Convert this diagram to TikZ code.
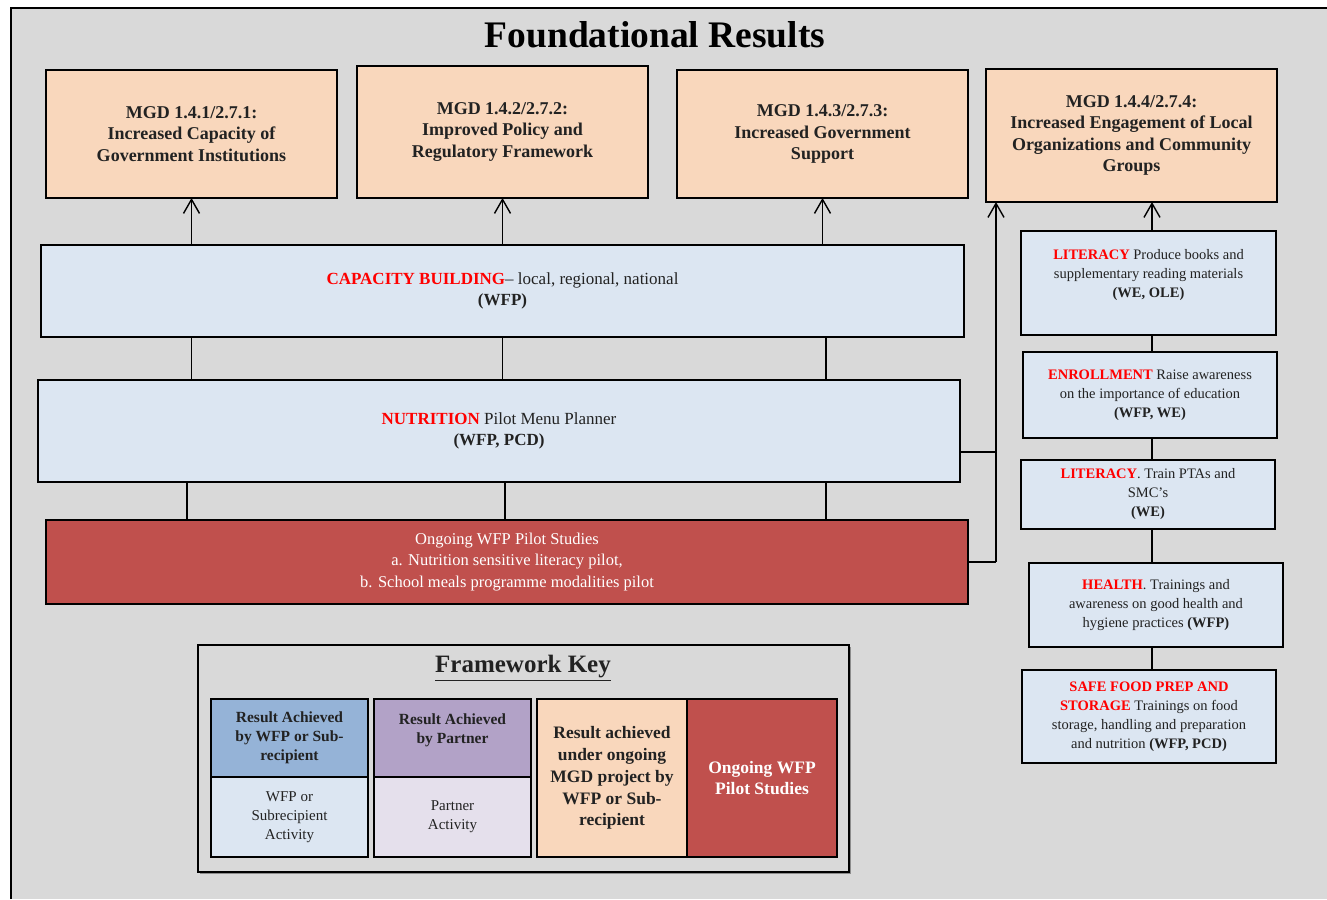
\documentclass[tikz,border=0pt]{standalone}
\usepackage{fontspec}
\setmainfont{Liberation Serif}
\usetikzlibrary{arrows.meta}
\definecolor{bg}{HTML}{D9D9D9}
\definecolor{lblue}{HTML}{DCE6F2}
\definecolor{pilotred}{HTML}{C0504D}
\definecolor{peach}{HTML}{F9D7BC}
\definecolor{kblue}{HTML}{95B3D7}
\definecolor{kpurple}{HTML}{B2A2C7}
\definecolor{lpurple}{HTML}{E5E0EC}
\definecolor{hl}{HTML}{FF0000}
\definecolor{txt}{HTML}{222222}
\newcommand{\hlw}[1]{\textcolor{hl}{\bfseries #1}}
\begin{document}
\begin{tikzpicture}[x=1pt,y=-1pt,
  box/.style={draw=black,line width=1.6pt,inner sep=0pt,outer sep=0pt,align=center,text=txt},
  mgd/.style={box,fill=peach,font=\fontsize{18}{21.5}\selectfont\bfseries},
  act/.style={box,fill=lblue,font=\fontsize{17}{21}\selectfont},
  pilotbox/.style={box,fill=pilotred,text=white,font=\fontsize{16.5}{21.5}\selectfont},
  side/.style={box,fill=lblue,font=\fontsize{14.5}{19}\selectfont},
  keyhead/.style={box,font=\fontsize{15.5}{19}\selectfont\bfseries},
  keybody/.style={box,font=\fontsize{15}{19}\selectfont},
  conn/.style={line width=1.3pt},
  arr/.style={conn,-{Straight Barb[length=14pt,width=16pt,line width=1.4pt]}},
]
\useasboundingbox (0,0) rectangle (1327,899);
\fill[bg] (11,8) rectangle (1327,899);
\draw[line width=1.3pt] (11,899) -- (11,8) -- (1327,8);

\node[font=\fontsize{37.5}{40}\selectfont\bfseries] (title) at (655,35) {Foundational Results};

% MGD result boxes
\node[mgd,minimum width=291,minimum height=128] (m1) at (191.5,134)
  {MGD 1.4.1/2.7.1:\\Increased Capacity of\\Government Institutions};
\node[mgd,minimum width=291,minimum height=132] (m2) at (502.5,132)
  {MGD 1.4.2/2.7.2:\\Improved Policy and\\Regulatory Framework};
\node[mgd,minimum width=291,minimum height=128] (m3) at (822.5,134)
  {MGD 1.4.3/2.7.3:\\Increased Government\\Support};
\node[mgd,minimum width=291,minimum height=133] (m4) at (1131.5,135.5)
  {MGD 1.4.4/2.7.4:\\Increased Engagement of Local\\Organizations and Community\\Groups};

% main activity boxes
\node[act,minimum width=923,minimum height=92] (cb) at (502.5,291)
  {\hlw{CAPACITY BUILDING}– local, regional, national\\\textbf{(WFP)}};
\node[act,minimum width=922,minimum height=102] (nut) at (499,431)
  {\hlw{NUTRITION} Pilot Menu Planner\\\textbf{(WFP, PCD)}};
\node[pilotbox,minimum width=922,minimum height=84] (pilot) at (507,562)
  {Ongoing WFP Pilot Studies\\a. Nutrition sensitive literacy pilot,\\b. School meals programme modalities pilot};

% right column
\node[side,minimum width=255,minimum height=104] (l1) at (1148.5,283)
  {\hlw{LITERACY} Produce books and\\supplementary reading materials\\\textbf{(WE, OLE)}\\\mbox{}};
\node[side,minimum width=254,minimum height=86] (en) at (1150,395)
  {\hlw{ENROLLMENT} Raise awareness\\on the importance of education\\\textbf{(WFP, WE)}};
\node[side,minimum width=254,minimum height=69] (l2) at (1148,494.5)
  {\hlw{LITERACY}. Train PTAs and\\SMC’s\\\textbf{(WE)}};
\node[side,minimum width=254,minimum height=84] (he) at (1156,605)
  {\hlw{HEALTH}. Trainings and\\awareness on good health and\\hygiene practices \textbf{(WFP)}};
\node[side,minimum width=254,minimum height=93] (sf) at (1149,716.5)
  {\hlw{SAFE FOOD PREP AND}\\\hlw{STORAGE} Trainings on food\\storage, handling and preparation\\and nutrition \textbf{(WFP, PCD)}};

% connectors main column
\draw[arr] (cb.north -| m1.south) -- (m1.south);
\draw[arr] (cb.north -| m2.south) -- (m2.south);
\draw[arr] (cb.north -| m3.south) -- (m3.south);
\draw[conn] (cb.south -| m1.south) -- (nut.north -| m1.south);
\draw[conn] (cb.south -| m2.south) -- (nut.north -| m2.south);
\coordinate (c3) at (826,0);
\draw[conn] (cb.south -| c3) -- (nut.north -| c3);
\coordinate (d1) at (187,0);
\coordinate (d2) at (505,0);
\draw[conn] (nut.south -| d1) -- (pilot.north -| d1);
\draw[conn] (nut.south -| d2) -- (pilot.north -| d2);
\draw[conn] (nut.south -| c3) -- (pilot.north -| c3);

% feedback line to MGD 1.4.4
\coordinate (fb) at (996,0);
\coordinate (nj) at ([yshift=-21pt]nut.east);
\draw[conn] (pilot.east) -- (pilot.east -| fb);
\draw[conn] (nj) -- (nj -| fb);
\draw[arr] (pilot.east -| fb) -- (fb |- m4.south);

% right column connectors
\coordinate (rc) at (1152,0);
\draw[arr] (rc |- l1.north) -- (rc |- m4.south);
\draw[conn] (rc |- l1.south) -- (rc |- en.north);
\draw[conn] (rc |- en.south) -- (rc |- l2.north);
\draw[conn] (rc |- l2.south) -- (rc |- he.north);
\draw[conn] (rc |- he.south) -- (rc |- sf.north);

% framework key
\fill[black!45] (200,647) rectangle (851,874);
\node[box,fill=bg,minimum width=651,minimum height=227] (key) at (523.5,758.5) {};
\node[font=\fontsize{25}{28}\selectfont\bfseries,text=txt] (keytitle) at (523,668) {\underline{Framework Key}};
\node[keyhead,fill=kblue,minimum width=157,minimum height=78] (k1a) at (289.5,738)
  {Result Achieved\\by WFP or Sub-\\recipient};
\node[keybody,fill=lblue,minimum width=157,minimum height=80] (k1b) at (289.5,817)
  {WFP or\\Subrecipient\\Activity};
\node[keyhead,fill=kpurple,minimum width=157,minimum height=78] (k2a) at (452.5,738)
  {Result Achieved\\by Partner\\\mbox{}};
\node[keybody,fill=lpurple,minimum width=157,minimum height=80] (k2b) at (452.5,817)
  {Partner\\Activity};
\node[box,fill=peach,minimum width=150,minimum height=158,font=\fontsize{17.5}{21.8}\selectfont\bfseries] (k3) at (612,778)
  {Result achieved\\under ongoing\\MGD project by\\WFP or Sub-\\recipient};
\node[box,fill=pilotred,text=white,minimum width=150,minimum height=158,font=\fontsize{17.5}{21.5}\selectfont\bfseries] (k4) at (762,778)
  {Ongoing WFP\\Pilot Studies};
\end{tikzpicture}
\end{document}
